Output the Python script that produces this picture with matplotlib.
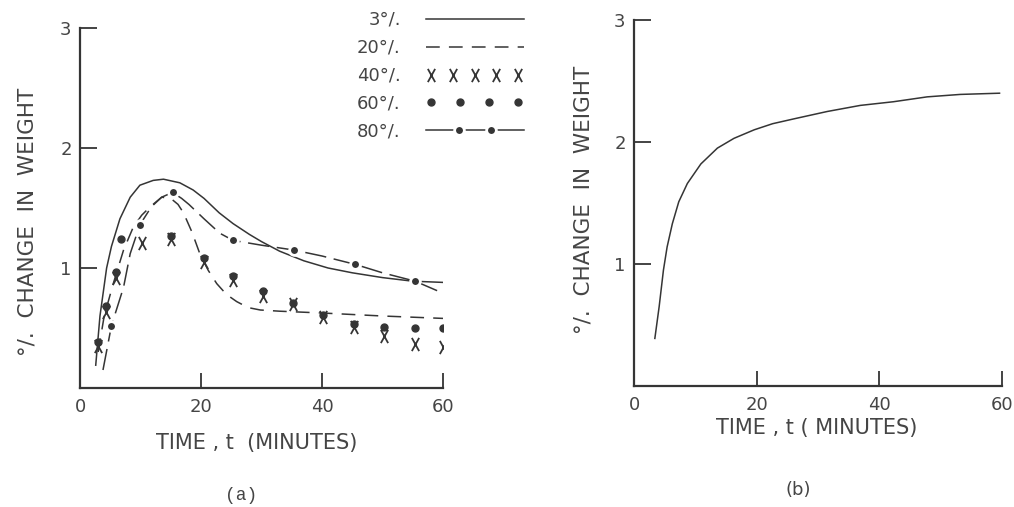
import numpy as np
import matplotlib
matplotlib.use("Agg")
import matplotlib.pyplot as plt
from matplotlib.path import Path
from matplotlib.lines import Line2D
from matplotlib.legend_handler import HandlerLine2D

# ---- panel (a): % change in weight vs time, several concentrations ----
t3 = [2.6, 3.3, 4.4, 5.2, 6.6, 8.3, 9.9, 12.1, 13.8, 16.5, 18.7, 20.5, 23.0, 25.3,
      28.0, 30.0, 33.0, 37.0, 41.0, 45.0, 50.0, 55.0, 60.0]
w3 = [0.19, 0.60, 1.00, 1.18, 1.41, 1.59, 1.69, 1.73, 1.74, 1.71, 1.65, 1.58, 1.46, 1.37,
      1.28, 1.22, 1.14, 1.06, 1.00, 0.96, 0.92, 0.89, 0.88]

t20 = [3.0, 4.0, 5.5, 7.2, 8.8, 10.2, 11.6, 13.5, 15.0, 16.2, 17.1, 18.5, 19.8, 21.2,
       22.6, 24.2, 25.9, 27.8, 29.8, 33.0, 40.0, 50.0, 60.0]
w20 = [0.30, 0.60, 0.87, 1.15, 1.34, 1.44, 1.51, 1.59, 1.58, 1.53, 1.46, 1.30, 1.12, 0.98,
       0.87, 0.78, 0.72, 0.67, 0.65, 0.64, 0.625, 0.60, 0.58]

t40 = [3.0, 4.3, 6.0, 10.3, 15.0, 20.5, 25.3, 30.3, 35.2, 40.2, 45.3, 50.2, 55.3, 60.0]
w40 = [0.35, 0.63, 0.92, 1.21, 1.24, 1.05, 0.90, 0.77, 0.70, 0.59, 0.51, 0.43, 0.37, 0.34]

t60 = [3.0, 4.3, 6.0, 6.8, 15.0, 20.5, 25.3, 30.3, 35.2, 40.2, 45.3, 50.2, 55.3, 60.0]
w60 = [0.38, 0.68, 0.97, 1.24, 1.27, 1.08, 0.93, 0.81, 0.71, 0.61, 0.53, 0.51, 0.50, 0.50]

t80 = [3.8, 5.2, 7.2, 8.3, 9.9, 11.8, 13.5, 15.3, 16.8, 18.0, 20.5, 23.1, 25.3, 30.0,
       35.3, 40.0, 45.5, 50.0, 55.4, 60.0]
w80 = [0.15, 0.52, 0.84, 1.12, 1.36, 1.51, 1.59, 1.63, 1.58, 1.53, 1.41, 1.29, 1.23, 1.19,
       1.15, 1.10, 1.03, 0.96, 0.89, 0.79]
dots80 = [1, 4, 7, 12, 14, 16, 18]   # which 80% points carry a dot

# ---- panel (b) ----
tb = [3.4, 4.1, 4.8, 5.4, 6.25, 7.3, 8.7, 10.9, 13.6, 16.3, 19.6, 22.6, 26.1, 31.5,
      36.9, 42.3, 47.8, 53.2, 59.6]
wb = [0.39, 0.65, 0.95, 1.14, 1.33, 1.51, 1.66, 1.82, 1.95, 2.03, 2.10, 2.15, 2.19, 2.25,
      2.30, 2.33, 2.37, 2.39, 2.40]

ink = "#353535"
txt = "#454545"
plt.rcParams["font.family"] = ["DejaVu Sans"]

# letter-like X marker
xmark = Path([(-0.55, -1), (0.55, 1), (-0.55, 1), (0.55, -1)],
             [Path.MOVETO, Path.LINETO, Path.MOVETO, Path.LINETO])


class DotDash(HandlerLine2D):
    # legend sample "--o--o--"
    def create_artists(self, legend, orig_handle, xdescent, ydescent,
                       width, height, fontsize, trans):
        xs = np.linspace(-xdescent, width - xdescent, 4)
        ys = np.full(4, (height - ydescent) / 2)
        ln = Line2D(xs, ys)
        self.update_prop(ln, orig_handle, legend)
        ln.set_linestyle("-")
        ln.set_markevery([1, 2])
        ln.set_transform(trans)
        return [ln]


def style_axes(ax):
    for s in ["top", "right"]:
        ax.spines[s].set_visible(False)
    for s in ["left", "bottom"]:
        ax.spines[s].set_linewidth(1.6)
        ax.spines[s].set_color(ink)
    ax.set_xlim(0, 60)
    ax.set_ylim(0, 3)
    ax.set_xticks([0, 20, 40, 60])
    ax.set_yticks([1, 2, 3])
    ax.tick_params(axis="x", direction="in", length=11, width=1.3, color=ink,
                   labelsize=13, labelcolor=txt, pad=7)
    ax.tick_params(axis="y", direction="in", length=12.5, width=1.3, color=ink,
                   labelsize=13, labelcolor=txt, pad=6)
    ax.set_facecolor("white")


fig = plt.figure(figsize=(10.14, 5.07), dpi=100)
ax_a = fig.add_axes([80 / 1014, 1 - 388 / 507, 363 / 1014, 360 / 507])
ax_b = fig.add_axes([634 / 1014, 1 - 386 / 507, 368 / 1014, 366 / 507])

h3, = ax_a.plot(t3, w3, color=ink, lw=1.1, label="3°/.")
h20, = ax_a.plot(t20, w20, color=ink, lw=1.1, dashes=(9, 6), label="20°/.")
h40, = ax_a.plot(t40, w40, ls="none", marker=xmark, ms=9.5, mew=1.3, mfc="none",
                 color=ink, label="40°/.")
h60, = ax_a.plot(t60, w60, ls="none", marker="o", ms=5, color=ink, label="60°/.")
h80, = ax_a.plot(t80, w80, color=ink, lw=1.1, dashes=(14, 5), marker="o", ms=7,
                 mew=2, mec="white", mfc=ink, markevery=dots80, label="80°/.")
style_axes(ax_a)

ax_a.legend(handles=[h3, h20, h40, h60, h80],
            handler_map={h40: HandlerLine2D(numpoints=5),
                         h60: HandlerLine2D(numpoints=4),
                         h80: DotDash()},
            loc="upper left", bbox_to_anchor=(357 / 1014, 1 - 11 / 507),
            bbox_transform=fig.transFigure, frameon=False, markerfirst=False,
            handlelength=5.4, handletextpad=1.4, labelspacing=0.55,
            borderpad=0, borderaxespad=0, fontsize=13, labelcolor=txt)

ax_a.set_xlabel("TIME , t  (MINUTES)", fontsize=15, color=txt)
ax_a.set_ylabel("°/.  CHANGE  IN  WEIGHT", fontsize=15.5, color=txt)
ax_a.xaxis.set_label_coords(0.488, -0.125)
ax_a.yaxis.set_label_coords(-0.118, 0.461)

ax_b.plot(tb, wb, color=ink, lw=1.1)
style_axes(ax_b)
ax_b.set_xlabel("TIME , t ( MINUTES)", fontsize=15, color=txt)
ax_b.set_ylabel("°/.  CHANGE  IN  WEIGHT", fontsize=15.5, color=txt)
ax_b.xaxis.set_label_coords(0.497, -0.087)
ax_b.yaxis.set_label_coords(-0.109, 0.508)

fig.text(241 / 1014, 1 - 495 / 507, "(a)", fontsize=13, color=txt,
         family="Liberation Mono", ha="center", va="center")
fig.text(798 / 1014, 1 - 490 / 507, "(b)", fontsize=13, color=txt,
         ha="center", va="center")

fig.savefig("out.png", dpi=100)
